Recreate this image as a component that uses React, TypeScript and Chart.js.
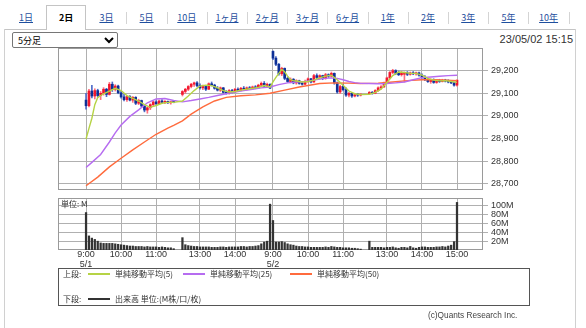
import React, { useEffect, useRef } from 'react';
import { Chart, registerables } from 'chart.js';

Chart.register(...registerables);

const FONT = "'Liberation Sans', 'Noto Sans CJK JP', sans-serif";
const JP = "'Noto Sans CJK JP', 'Liberation Sans', sans-serif";

// ---------- data ----------
const dates = ['5/1', '5/2'];
const tabs = ['1日', '2日', '3日', '5日', '10日', '1ヶ月', '2ヶ月', '3ヶ月', '6ヶ月', '1年', '2年', '3年', '5年', '10年'];
const selectedTab = '2日';

const gridTimes = ['5/1 9:00', '5/1 10:00', '5/1 11:00', '5/1 13:00', '5/1 14:00', '5/2 9:00', '5/2 10:00', '5/2 11:00', '5/2 13:00', '5/2 14:00', '5/2 15:00'];
const gridLabels: (string | string[])[] = [['9:00', '5/1'], '10:00', '11:00', '13:00', '14:00', ['9:00', '5/2'], '10:00', '11:00', '13:00', '14:00', '15:00'];
const priceTicks = [28700, 28800, 28900, 29000, 29100, 29200];
const volumeTicks = [20, 40, 60, 80, 100];

// 5-minute bars: each day 9:00-11:30 (31 bars) and 12:30-15:00 (31 bars)
const opens = [
  29070, 29045, 29110, 29088, 29112, 29090, 29100, 29118, 29095, 29140, 29118, 29132, 29102, 29084, 29072, 29086, 29070, 29082, 29056, 29068, 29044, 29026, 29036, 29050, 29062, 29054, 29066, 29060, 29064, 29058, 29062,
  29095, 29108, 29118, 29130, 29140, 29146, 29134, 29124, 29130, 29118, 29142, 29136, 29122, 29114, 29124, 29104, 29100, 29112, 29106, 29118, 29112, 29122, 29118, 29124, 29120, 29128, 29124, 29136, 29144, 29132, 29140,
  29285, 29255, 29228, 29186, 29210, 29166, 29152, 29162, 29146, 29155, 29144, 29140, 29152, 29164, 29150, 29178, 29170, 29178, 29166, 29182, 29176, 29188, 29146, 29106, 29130, 29116, 29092, 29100, 29088, 29094, 29092,
  29098, 29104, 29100, 29112, 29124, 29128, 29146, 29168, 29192, 29200, 29188, 29182, 29184, 29190, 29184, 29190, 29186, 29190, 29180, 29170, 29160, 29152, 29160, 29148, 29156, 29152, 29158, 29154, 29150, 29146, 29136,
];
const highs = [
  29100, 29118, 29135, 29120, 29118, 29108, 29125, 29122, 29148, 29150, 29138, 29136, 29110, 29096, 29090, 29090, 29086, 29085, 29074, 29070, 29048, 29040, 29054, 29066, 29068, 29070, 29072, 29068, 29066, 29064, 29064,
  29112, 29122, 29134, 29144, 29150, 29152, 29142, 29136, 29134, 29146, 29150, 29140, 29130, 29128, 29126, 29112, 29116, 29118, 29122, 29124, 29126, 29130, 29128, 29130, 29132, 29134, 29140, 29150, 29152, 29145, 29142,
  29288, 29262, 29232, 29215, 29212, 29172, 29168, 29165, 29160, 29158, 29152, 29158, 29168, 29166, 29184, 29186, 29182, 29180, 29188, 29186, 29194, 29190, 29150, 29136, 29140, 29124, 29104, 29102, 29098, 29100, 29098,
  29108, 29108, 29116, 29128, 29134, 29150, 29172, 29196, 29206, 29204, 29198, 29196, 29194, 29196, 29194, 29196, 29194, 29194, 29186, 29178, 29166, 29164, 29164, 29160, 29162, 29162, 29162, 29160, 29156, 29150, 29160,
];
const lows = [
  29030, 29040, 29080, 29075, 29082, 29072, 29092, 29085, 29092, 29108, 29110, 29098, 29078, 29066, 29064, 29066, 29060, 29050, 29050, 29040, 29018, 29012, 29028, 29042, 29048, 29050, 29056, 29054, 29055, 29052, 29058,
  29088, 29100, 29112, 29124, 29130, 29128, 29118, 29116, 29112, 29116, 29132, 29118, 29110, 29108, 29100, 29096, 29096, 29102, 29104, 29108, 29110, 29114, 29114, 29116, 29118, 29120, 29122, 29132, 29128, 29126, 29120,
  29248, 29222, 29180, 29178, 29160, 29148, 29146, 29142, 29140, 29140, 29136, 29138, 29148, 29146, 29148, 29164, 29162, 29160, 29162, 29170, 29172, 29140, 29100, 29098, 29110, 29086, 29084, 29082, 29084, 29086, 29088,
  29094, 29096, 29098, 29108, 29118, 29126, 29142, 29164, 29186, 29182, 29178, 29176, 29150, 29178, 29180, 29182, 29180, 29176, 29166, 29156, 29148, 29144, 29144, 29144, 29148, 29150, 29150, 29146, 29142, 29132, 29132,
];
const closes = [
  29045, 29110, 29088, 29112, 29090, 29100, 29118, 29095, 29140, 29118, 29132, 29102, 29084, 29072, 29086, 29070, 29082, 29056, 29068, 29044, 29026, 29036, 29050, 29062, 29054, 29066, 29060, 29064, 29058, 29062, 29060,
  29108, 29118, 29130, 29140, 29146, 29134, 29124, 29130, 29118, 29142, 29136, 29122, 29114, 29124, 29104, 29100, 29112, 29106, 29118, 29112, 29122, 29118, 29124, 29120, 29128, 29124, 29136, 29144, 29132, 29140, 29123,
  29255, 29228, 29186, 29210, 29166, 29152, 29162, 29146, 29155, 29144, 29140, 29152, 29164, 29150, 29178, 29170, 29178, 29166, 29182, 29176, 29188, 29146, 29106, 29130, 29116, 29092, 29100, 29088, 29094, 29092, 29096,
  29104, 29100, 29112, 29124, 29128, 29146, 29168, 29192, 29200, 29188, 29182, 29192, 29190, 29184, 29190, 29186, 29190, 29180, 29170, 29160, 29152, 29160, 29148, 29156, 29152, 29158, 29154, 29150, 29146, 29136, 29158,
];
const volumes = [
  85, 32, 27, 24, 20, 16, 15, 15, 15, 15, 14, 13, 12, 11, 10, 9, 9, 8, 8, 8, 7, 8, 7, 7, 7, 6, 7, 6, 5, 5, 3,
  28, 12, 10, 9, 8, 8, 7, 7, 7, 7, 6, 6, 6, 7, 7, 6, 7, 7, 7, 7, 8, 8, 7, 8, 8, 9, 10, 14, 18, 20, 104,
  67, 18, 18, 19, 17, 14, 12, 11, 9, 8, 8, 7, 7, 6, 6, 6, 6, 6, 7, 6, 8, 7, 6, 6, 5, 5, 5, 4, 4, 3, 2,
  20, 6, 6, 6, 6, 5, 6, 6, 7, 5, 4, 6, 6, 5, 8, 5, 4, 6, 7, 7, 6, 6, 6, 7, 7, 8, 7, 9, 11, 19, 108,
];

const ma5: [string, number][] = [
  ['5/1 9:00', 28898], ['5/1 9:05', 28945], ['5/1 9:10', 28990], ['5/1 9:15', 29050], ['5/1 9:20', 29082], ['5/1 9:30', 29098],
  ['5/1 9:40', 29110], ['5/1 9:50', 29122], ['5/1 10:00', 29112], ['5/1 10:10', 29090], ['5/1 10:20', 29078], ['5/1 10:30', 29066],
  ['5/1 10:40', 29050], ['5/1 10:50', 29038], ['5/1 11:00', 29046], ['5/1 11:10', 29056], ['5/1 11:20', 29060], ['5/1 11:30', 29060],
  ['5/1 12:30', 29066], ['5/1 12:40', 29088], ['5/1 12:50', 29112], ['5/1 13:00', 29132], ['5/1 13:10', 29136], ['5/1 13:20', 29134],
  ['5/1 13:30', 29124], ['5/1 13:40', 29112], ['5/1 13:50', 29106], ['5/1 14:00', 29108], ['5/1 14:10', 29114], ['5/1 14:25', 29120],
  ['5/1 14:40', 29126], ['5/1 14:50', 29134], ['5/1 15:00', 29128],
  ['5/2 9:00', 29150], ['5/2 9:05', 29170], ['5/2 9:10', 29188], ['5/2 9:15', 29205], ['5/2 9:20', 29195], ['5/2 9:25', 29176],
  ['5/2 9:30', 29160], ['5/2 9:35', 29156], ['5/2 9:40', 29154], ['5/2 9:50', 29150], ['5/2 10:00', 29152], ['5/2 10:10', 29158],
  ['5/2 10:20', 29168], ['5/2 10:30', 29176], ['5/2 10:40', 29180], ['5/2 10:50', 29160], ['5/2 11:00', 29136], ['5/2 11:10', 29110],
  ['5/2 11:20', 29098], ['5/2 11:30', 29094], ['5/2 12:30', 29096], ['5/2 12:40', 29104], ['5/2 12:50', 29118], ['5/2 13:00', 29148],
  ['5/2 13:10', 29178], ['5/2 13:20', 29194], ['5/2 13:30', 29192], ['5/2 13:40', 29188], ['5/2 13:50', 29188], ['5/2 14:00', 29180],
  ['5/2 14:10', 29166], ['5/2 14:20', 29158], ['5/2 14:30', 29155], ['5/2 14:40', 29156], ['5/2 14:50', 29152], ['5/2 15:00', 29148],
];
const ma25: [string, number][] = [
  ['5/1 9:00', 28772], ['5/1 9:10', 28795], ['5/1 9:25', 28830], ['5/1 9:40', 28885], ['5/1 9:50', 28925], ['5/1 10:00', 28960],
  ['5/1 10:15', 28998], ['5/1 10:30', 29027], ['5/1 10:45', 29058], ['5/1 11:00', 29075], ['5/1 11:15', 29077], ['5/1 11:30', 29068],
  ['5/1 12:30', 29062], ['5/1 12:45', 29068], ['5/1 13:00', 29075], ['5/1 13:15', 29082], ['5/1 13:30', 29090], ['5/1 13:45', 29098],
  ['5/1 14:00', 29105], ['5/1 14:15', 29112], ['5/1 14:30', 29118], ['5/1 14:45', 29124], ['5/1 15:00', 29128],
  ['5/2 9:10', 29138], ['5/2 9:25', 29146], ['5/2 9:40', 29150], ['5/2 9:55', 29152], ['5/2 10:10', 29158], ['5/2 10:25', 29165],
  ['5/2 10:40', 29168], ['5/2 10:50', 29166], ['5/2 11:00', 29160], ['5/2 11:10', 29152], ['5/2 11:20', 29147], ['5/2 11:30', 29144],
  ['5/2 12:30', 29143], ['5/2 12:45', 29142], ['5/2 13:00', 29143], ['5/2 13:15', 29146], ['5/2 13:30', 29150], ['5/2 13:45', 29160],
  ['5/2 14:00', 29169], ['5/2 14:15', 29172], ['5/2 14:30', 29175], ['5/2 14:45', 29178], ['5/2 15:00', 29180],
];
const ma50: [string, number][] = [
  ['5/1 9:00', 28692], ['5/1 9:20', 28730], ['5/1 9:40', 28775], ['5/1 10:00', 28813], ['5/1 10:20', 28850], ['5/1 10:40', 28885],
  ['5/1 11:00', 28919], ['5/1 11:20', 28946], ['5/1 11:30', 28958], ['5/1 12:30', 28978], ['5/1 12:45', 29008], ['5/1 13:05', 29040],
  ['5/1 13:25', 29066], ['5/1 13:45', 29082], ['5/1 14:10', 29089], ['5/1 14:35', 29093], ['5/1 15:00', 29100],
  ['5/2 9:20', 29114], ['5/2 9:45', 29128], ['5/2 10:20', 29143], ['5/2 10:45', 29146], ['5/2 11:10', 29145], ['5/2 11:30', 29143],
  ['5/2 12:45', 29145], ['5/2 13:10', 29150], ['5/2 13:35', 29156], ['5/2 14:00', 29160], ['5/2 14:25', 29160], ['5/2 15:00', 29156],
];

// ---------- helpers ----------
const fmt = (m: number) => `${Math.floor(m / 60)}:${String(m % 60).padStart(2, '0')}`;
const sessionTimes: string[] = [];
for (let m = 540; m <= 690; m += 5) sessionTimes.push(fmt(m));
for (let m = 750; m <= 900; m += 5) sessionTimes.push(fmt(m));
const barTimes = dates.flatMap((d) => sessionTimes.map((t) => `${d} ${t}`));

// axis position of a time: trading slots with a short break at lunch
function slotOf(label: string): number {
  const [d, t] = label.split(' ');
  const [h, mm] = t.split(':').map(Number);
  const min = h * 60 + mm;
  const idx = min <= 690 ? (min - 540) / 5 : (min - 750) / 5 + 33;
  return dates.indexOf(d) * 64 + idx;
}

const C5 = '#b6d345';
const C25 = '#b66cf0';
const C50 = '#ff6b3d';
const UP = '#f2182e';
const DOWN = '#0d2f96';
const UPW = '#ff6f7e';
const DOWNW = '#4f6cc8';
const GRID = '#b0b0b0';

const framePlugin = {
  id: 'frame',
  beforeDatasetsDraw(chart: any) {
    const { ctx, chartArea: a } = chart;
    ctx.save();
    ctx.strokeStyle = '#9a9a9a';
    ctx.lineWidth = 1;
    ctx.strokeRect(Math.round(a.left) + 0.5, Math.round(a.top) + 0.5, Math.round(a.right - a.left) - 1, Math.round(a.bottom - a.top) - 1);
    ctx.restore();
  },
};

const X_MIN = -9.6;
const X_MAX = 135.9;

export default function App() {
  const priceRef = useRef<HTMLCanvasElement>(null);
  const volRef = useRef<HTMLCanvasElement>(null);

  useEffect(() => {
    const xs = barTimes.map(slotOf);
    const gridSlots = gridTimes.map(slotOf);
    const line = (label: string, pts: [string, number][], color: string) => ({
      type: 'line' as const,
      label,
      data: pts.map(([t, v]) => ({ x: slotOf(t), y: v })),
      borderColor: color,
      borderWidth: 1.4,
      pointRadius: 0,
      tension: 0,
      order: 0,
    });

    const price = new Chart(priceRef.current!, {
      type: 'line',
      data: {
        datasets: [
          line('MA5', ma5, C5),
          line('MA25', ma25, C25),
          line('MA50', ma50, C50),
          {
            type: 'bar',
            label: 'body',
            data: xs.map((x, i) => ({ x, y: [opens[i], closes[i]] })) as any,
            backgroundColor: xs.map((_, i) => (closes[i] >= opens[i] ? UP : DOWN)),
            barThickness: 2,
            minBarLength: 1,
            grouped: false,
            borderWidth: 0,
            order: 1,
          } as any,
          {
            type: 'bar',
            label: 'wick',
            data: xs.map((x, i) => ({ x, y: [lows[i], highs[i]] })) as any,
            backgroundColor: xs.map((_, i) => (closes[i] >= opens[i] ? UPW : DOWNW)),
            barThickness: 1,
            grouped: false,
            borderWidth: 0,
            order: 2,
          } as any,
        ],
      },
      options: {
        responsive: false,
        animation: false,
        devicePixelRatio: 1,
        events: [],
        layout: { padding: { left: 58, right: 0, top: 8, bottom: 8 } },
        plugins: { legend: { display: false }, tooltip: { enabled: false } },
        scales: {
          x: {
            type: 'linear',
            min: X_MIN,
            max: X_MAX,
            offset: false,
            afterBuildTicks: (s: any) => { s.ticks = gridSlots.map((v) => ({ value: v })); },
            afterFit: (s: any) => { s.height = 0; },
            ticks: { display: false },
            grid: { color: GRID, drawTicks: false, offset: false },
            border: { display: false },
          },
          y: {
            position: 'right',
            min: 28673,
            max: 29300,
            afterBuildTicks: (s: any) => { s.ticks = priceTicks.map((v) => ({ value: v })); },
            afterFit: (s: any) => { s.width = 103; },
            grid: { color: GRID, drawTicks: true, tickLength: 5 },
            border: { display: false },
            ticks: {
              padding: 3,
              color: '#333',
              font: { size: 9, family: FONT, lineHeight: 1 },
              callback: (v: any) => Number(v).toLocaleString('en-US'),
            },
          },
        },
      } as any,
      plugins: [framePlugin],
    });

    const vol = new Chart(volRef.current!, {
      type: 'line',
      data: {
        datasets: [
          {
            type: 'bar',
            label: '出来高',
            data: xs.map((x, i) => ({ x, y: volumes[i] })) as any,
            backgroundColor: '#333333',
            barThickness: 1.6,
            grouped: false,
            borderWidth: 0,
          } as any,
        ],
      },
      options: {
        responsive: false,
        animation: false,
        devicePixelRatio: 1,
        events: [],
        layout: { padding: { left: 58, right: 0, top: 8, bottom: 0 } },
        plugins: { legend: { display: false }, tooltip: { enabled: false } },
        scales: {
          x: {
            type: 'linear',
            min: X_MIN,
            max: X_MAX,
            offset: false,
            afterBuildTicks: (s: any) => { s.ticks = gridSlots.map((v) => ({ value: v })); },
            afterFit: (s: any) => { s.height = 20; },
            ticks: {
              autoSkip: false,
              maxRotation: 0,
              minRotation: 0,
              padding: 0,
              color: '#333',
              font: { size: 9, family: FONT, lineHeight: '10px' },
              callback: (_v: any, i: number) => gridLabels[i],
            },
            grid: { color: GRID, drawTicks: false, offset: false },
            border: { display: false },
          },
          y: {
            position: 'right',
            min: 0,
            max: 118,
            afterBuildTicks: (s: any) => { s.ticks = volumeTicks.map((v) => ({ value: v })); },
            afterFit: (s: any) => { s.width = 103; },
            grid: { color: GRID, drawTicks: true, tickLength: 5 },
            border: { display: false },
            ticks: {
              padding: 3,
              color: '#333',
              font: { size: 9, family: FONT, lineHeight: 1 },
              callback: (v: any) => `${v}M`,
            },
          },
        },
      } as any,
      plugins: [framePlugin],
    });

    return () => {
      price.destroy();
      vol.destroy();
    };
  }, []);

  const abs = (s: React.CSSProperties): React.CSSProperties => ({ position: 'absolute', ...s });
  const legendLine = (left: number, top: number, color: string) => (
    <div style={abs({ left, top, width: 22, height: 2, background: color })} />
  );
  const jpText = (left: number, top: number, text: string) => (
    <span style={abs({ left, top, fontSize: 8, lineHeight: '10px', fontFamily: JP, color: '#333', whiteSpace: 'nowrap' })}>{text}</span>
  );

  return (
    <div style={abs({ left: 0, top: 0, width: 586, height: 328, overflow: 'hidden', background: '#fff', fontFamily: FONT })}>
      {/* tab bar */}
      <div style={abs({ left: 4, top: 29, width: 571, height: 1, background: '#c4c4c4' })} />
      <div style={abs({ left: 4, top: 29, width: 1, height: 299, background: '#d0d0d0' })} />
      <div style={abs({ left: 575, top: 29, width: 1, height: 299, background: '#d0d0d0' })} />
      {tabs.map((t, i) => {
        const center = 26 + 40.2 * i;
        const sel = t === selectedTab;
        return (
          <React.Fragment key={t}>
            {sel && (
              <div style={abs({ left: center - 20, top: 5, width: 40, height: 25, boxSizing: 'border-box', border: '1px solid #c4c4c4', borderBottom: 'none', background: '#fff' })} />
            )}
            <span
              style={abs({
                left: center - 20,
                top: 12,
                width: 40,
                textAlign: 'center',
                fontSize: 9,
                lineHeight: '12px',
                fontFamily: JP,
                fontWeight: sel ? 'bold' : 'normal',
                color: sel ? '#000' : '#1f4f9e',
                textDecoration: sel ? 'none' : 'underline',
              })}
            >
              {t}
            </span>
            {i >= 2 && <div style={abs({ left: Math.round(center + 20), top: 12, width: 1, height: 12, background: '#d4d4d4' })} />}
          </React.Fragment>
        );
      })}

      {/* interval selector and timestamp */}
      <select
        defaultValue="5分足"
        style={abs({ left: 12, top: 32, width: 106, height: 16, fontSize: 9, fontFamily: JP, padding: '0 0 0 1px', margin: 0, background: '#fff', color: '#000', border: '1px solid #767676', borderRadius: 2 })}
      >
        <option>5分足</option>
      </select>
      <span style={abs({ right: 13, top: 33, fontSize: 11, lineHeight: '13px', color: '#333' })}>23/05/02 15:15</span>

      {/* charts */}
      <canvas ref={priceRef} width={586} height={158} style={abs({ left: 0, top: 40, width: 586, height: 158 })} />
      <canvas ref={volRef} width={586} height={80} style={abs({ left: 0, top: 190, width: 586, height: 80 })} />
      {jpText(61, 199, '単位: M')}

      {/* legend */}
      <div style={abs({ left: 58, top: 268, width: 472, height: 38, boxSizing: 'border-box', border: '1px solid #555' })} />
      {jpText(63, 269, '上段:')}
      {legendLine(88, 273, C5)}
      {jpText(115, 269, '単純移動平均(5)')}
      {legendLine(183, 273, C25)}
      {jpText(210, 269, '単純移動平均(25)')}
      {legendLine(290, 273, C50)}
      {jpText(317, 269, '単純移動平均(50)')}
      {jpText(63, 294, '下段:')}
      {legendLine(88, 298, '#333')}
      {jpText(115, 294, '出来高 単位:(M株/口/枚)')}

      <span style={abs({ left: 428, top: 310, fontSize: 8.25, lineHeight: '11px', color: '#444', whiteSpace: 'nowrap' })}>(c)Quants Research Inc.</span>
    </div>
  );
}
